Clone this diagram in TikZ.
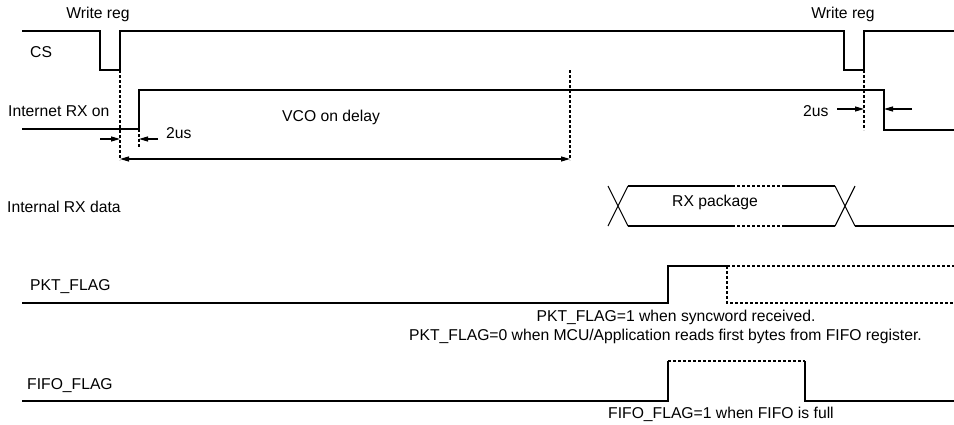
\documentclass[tikz,border=0pt]{standalone}
\usepackage{fontspec}
\setmainfont{Liberation Sans}
\usetikzlibrary{arrows.meta}
\begin{document}
\begin{tikzpicture}[x=1pt,y=-1pt,
  wave/.style={line width=1.1pt,line join=miter},
  dsh/.style={line width=1.1pt,dash pattern=on 3pt off 2pt},
  dimarrow/.style={line width=1.1pt,-{Triangle[length=9pt,width=5pt]}},
  lbl/.style={font=\fontsize{15.7}{18}\selectfont,inner sep=0pt,anchor=base west},
  lblc/.style={font=\fontsize{15.7}{18}\selectfont,inner sep=0pt,anchor=base}]
\useasboundingbox (0,0) rectangle (954,424);
% labels
\node[lblc] (wr1) at (98,18) {Write reg};
\node[lblc] (wr2) at (843,18) {Write reg};
\node[lbl] (cs) at (30,57) {CS};
\node[lbl] (rxon) at (8,116) {Internet RX on};
\node[lbl] (us1) at (166,138) {2us};
\node[lbl] (vco) at (282,121) {VCO on delay};
\node[lbl] (us2) at (803,116) {2us};
\node[lbl] (rxd) at (7,212) {Internal RX data};
\node[lblc] (pkg) at (715,206) {RX package};
\node[lbl] (pkt) at (30,290) {PKT\_FLAG};
\node[lblc] (pkt1) at (676,321) {PKT\_FLAG=1 when syncword received.};
\node[lbl] (pkt0) at (409,340) {PKT\_FLAG=0 when MCU/Application reads first bytes from FIFO register.};
\node[lbl] (fifo) at (27,389) {FIFO\_FLAG};
\node[lbl] (fifo1) at (608,418) {FIFO\_FLAG=1 when FIFO is full};
% CS
\draw[wave] (22,31) -- (100,31) -- (100,70) -- (120,70) -- (120,31) -- (844,31) -- (844,70) -- (864,70) -- (864,31) -- (954,31);
% Internal RX on
\draw[wave] (22,129) -- (139,129) -- (139,90) -- (884,90) -- (884,130) -- (954,130);
% dashed markers
\draw[dsh] (120,70) -- (120,160);
\draw[dsh] (139,129) -- (139,147);
\draw[dsh] (570,70) -- (570,160);
\draw[dsh] (864,70) -- (864,130);
% dimension arrows
\coordinate (a1s) at (100,139); \coordinate (a1e) at (120,139);
\coordinate (a2s) at (158,139); \coordinate (a2e) at (139,139);
\coordinate (a3s) at (837,109); \coordinate (a3e) at (864,109);
\coordinate (a4s) at (912,109); \coordinate (a4e) at (884,109);
\coordinate (d1) at (120,159); \coordinate (d2) at (570,159);
\draw[dimarrow] (a1s) -- (a1e);
\draw[dimarrow] (a2s) -- (a2e);
\draw[dimarrow] (a3s) -- (a3e);
\draw[dimarrow] (a4s) -- (a4e);
\draw[line width=1.1pt,{Triangle[length=9pt,width=5pt]}-{Triangle[length=9pt,width=5pt]}] (d1) -- (d2);
% RX data
\draw[wave] (608,186) -- (628,226) (608,226) -- (628,186);
\draw[wave] (628,186) -- (732,186) (783,186) -- (835,186);
\draw[wave] (628,226) -- (732,226) (783,226) -- (835,226);
\draw[dsh] (732,186) -- (783,186) (732,226) -- (783,226);
\draw[wave] (835,186) -- (855,226) (835,226) -- (855,186);
\draw[wave] (855,226) -- (954,226);
% PKT_FLAG
\draw[wave] (22,303) -- (668,303) -- (668,266) -- (727,266);
\draw[dsh] (727,266) -- (954,266);
\draw[dsh] (727,266) -- (727,303) -- (954,303);
% FIFO_FLAG
\draw[wave] (22,401) -- (668,401) -- (668,361);
\draw[dsh] (668,361) -- (805,361);
\draw[wave] (805,361) -- (805,401) -- (954,401);
\end{tikzpicture}
\end{document}
